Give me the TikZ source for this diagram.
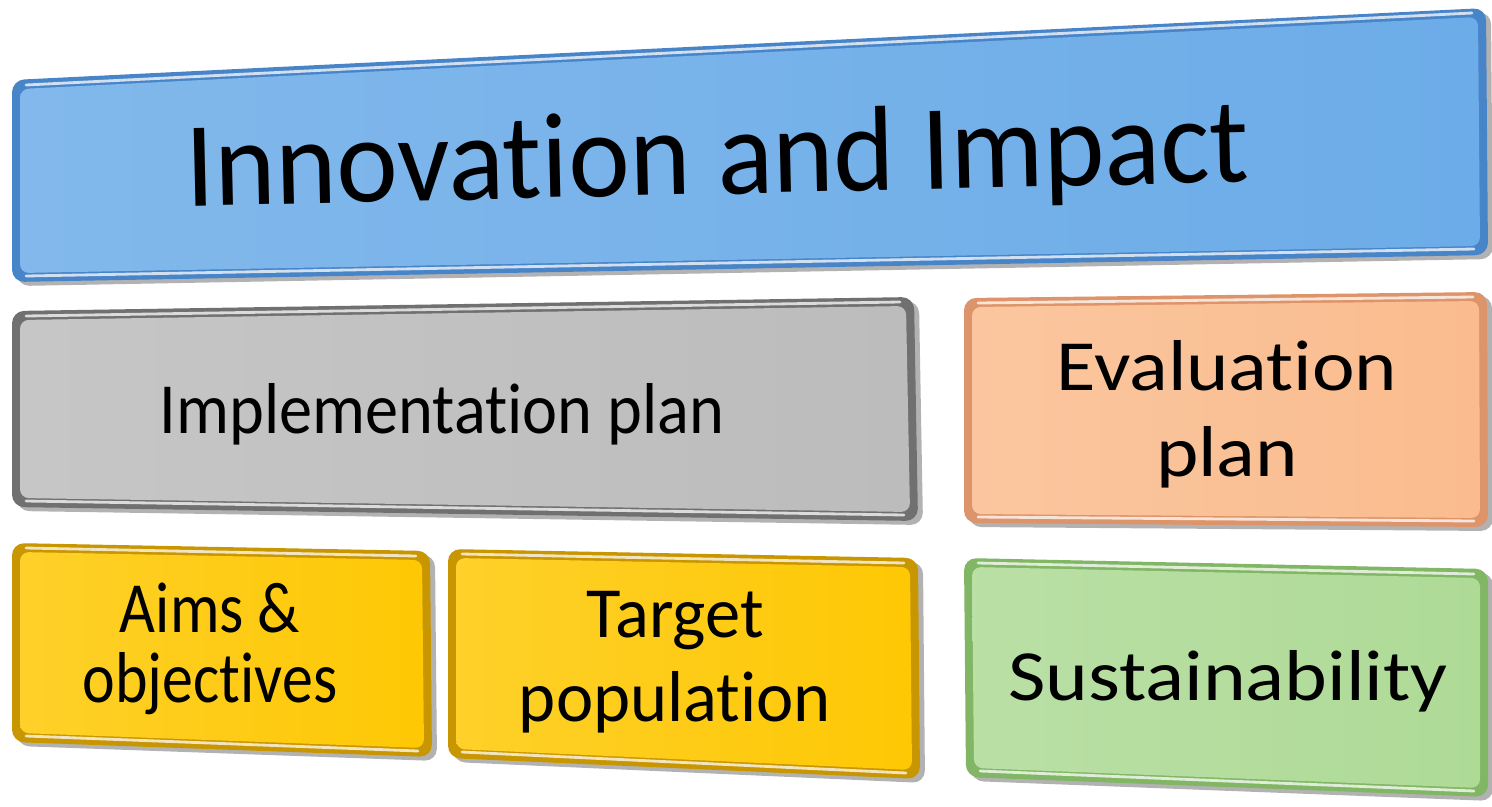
\documentclass[tikz,border=0pt]{standalone}
\usepackage{fontspec}
\setmainfont{Carlito}[Ligatures=NoCommon]
\usepackage{xcolor}
\usetikzlibrary{calc}
\definecolor{blueface}{RGB}{108,172,232}
\definecolor{bluerim}{RGB}{72,132,200}
\definecolor{grayface}{RGB}{188,188,188}
\definecolor{grayrim}{RGB}{112,112,112}
\definecolor{orangeface}{RGB}{250,188,142}
\definecolor{orangerim}{RGB}{222,148,106}
\definecolor{yellowface}{RGB}{254,200,4}
\definecolor{yellowrim}{RGB}{200,150,0}
\definecolor{greenface}{RGB}{174,218,150}
\definecolor{greenrim}{RGB}{128,182,100}
\tikzset{
	rim/.style={rounded corners=7pt},
	face/.style={rounded corners=5pt},
	gleam/.style={white, opacity=.75, line width=1.6pt, line cap=round},
	boxtext/.style={align=center, text=black, inner sep=0pt,
			font=\fontsize{41}{44.4}\selectfont}
}

\begin{document}
\begin{tikzpicture}[x=0.02cm, y=-0.02cm]
\useasboundingbox (0,0) rectangle (1492,806);
% Box corners
\coordinate (top-tl) at (12,80);  \coordinate (top-tr) at (1486,8);
\coordinate (top-br) at (1488,255); \coordinate (top-bl) at (12,282);
\coordinate (impl-tl) at (12,311);  \coordinate (impl-tr) at (914,297);
\coordinate (impl-br) at (918,521); \coordinate (impl-bl) at (12,507);
\coordinate (eval-tl) at (964,298); \coordinate (eval-tr) at (1487,292);
\coordinate (eval-br) at (1488,527); \coordinate (eval-bl) at (964,523);
\coordinate (aims-tl) at (12,543);  \coordinate (aims-tr) at (430,551);
\coordinate (aims-br) at (432,757); \coordinate (aims-bl) at (12,742);
\coordinate (target-tl) at (448,549); \coordinate (target-tr) at (918,558);
\coordinate (target-br) at (920,779); \coordinate (target-bl) at (448,758);
\coordinate (sust-tl) at (964,558); \coordinate (sust-tr) at (1488,569);
\coordinate (sust-br) at (1488,797); \coordinate (sust-bl) at (966,777);
% Bevelled boxes
\foreach \n/\rc/\fc in {top/bluerim/blueface, impl/grayrim/grayface,
		eval/orangerim/orangeface, aims/yellowrim/yellowface,
		target/yellowrim/yellowface, sust/greenrim/greenface} {
\fill[black, opacity=.3, rim] ([shift={(5,4)}]\n-tl) -- ([shift={(5,4)}]\n-tr)
	-- ([shift={(5,4)}]\n-br) -- ([shift={(5,4)}]\n-bl) -- cycle;
\fill[\rc, rim] (\n-tl) -- (\n-tr) -- (\n-br) -- (\n-bl) -- cycle;
\shade[face, left color=\fc!85!white, right color=\fc] ([shift={(8,9)}]\n-tl)
	-- ([shift={(-8,9)}]\n-tr) -- ([shift={(-8,-9)}]\n-br) -- ([shift={(8,-9)}]\n-bl) -- cycle;
\draw[gleam] ([shift={(14,-6)}]\n-bl) -- ([shift={(-14,-6)}]\n-br);
\draw[gleam] ([shift={(14,5)}]\n-tl) -- ([shift={(-14,5)}]\n-tr);
}
% Texts
\node[boxtext, anchor=base, rotate=1.3, xscale=.96, font=\fontsize{69}{80}\selectfont] (title)
	at (718,194) {Innovation and Impact};
\node[boxtext, anchor=base, xscale=.92] (impltext) at (442,433) {Implementation plan};
\node[boxtext, xscale=1.12, font=\fontsize{41}{49}\selectfont] (evaltext)
	at (1227,414) {Evaluation\\plan};
\node[boxtext, xscale=.86, font=\fontsize{41}{40}\selectfont] (aimstext)
	at (210,649) {Aims \&\\objectives};
\node[boxtext, xscale=.98, font=\fontsize{41}{48}\selectfont] (targettext)
	at (675,662) {Target\\population};
\node[boxtext, anchor=base, xscale=1.13] (susttext) at (1228,700) {Sustainability};
\end{tikzpicture}
\end{document}
